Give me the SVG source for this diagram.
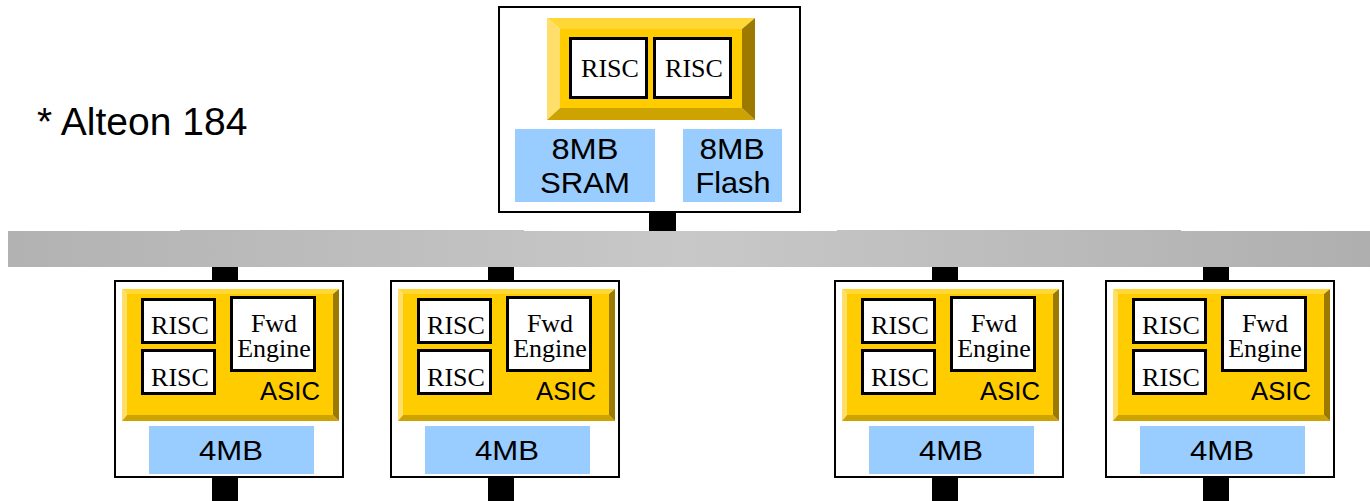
<svg xmlns="http://www.w3.org/2000/svg" width="1370" height="501" viewBox="0 0 1370 501">
<defs>
<linearGradient id="busg" gradientUnits="userSpaceOnUse" x1="8" y1="0" x2="1370" y2="0">
<stop offset="0" stop-color="#B2B2B2"/>
<stop offset="0.5" stop-color="#C8C8C8"/>
<stop offset="1" stop-color="#AFAFAF"/>
</linearGradient>
</defs>
<style>
.box{fill:#FFFFFF;stroke:#000000;stroke-width:2}
.face{fill:#FFCC00}
.bt{fill:#FFD836}
.bl{fill:#FFDE6A}
.bb{fill:#CCA300}
.br{fill:#9C7A00}
.chip{fill:#FFFFFF;stroke:#000000;stroke-width:3}
.mem{fill:#99CCFF}
.stub{fill:#000000}
.ser{font-family:"Liberation Serif","Times New Roman",serif;font-size:26px;fill:#000000;text-anchor:middle}
.san{font-family:"Liberation Sans",Arial,sans-serif;fill:#000000}
.c{text-anchor:middle}
</style>

<g id="connectors">
<rect x="8" y="231" width="1362" height="36" fill="url(#busg)"/>
<rect x="180" y="230" width="344" height="2" fill="url(#busg)"/>
<rect x="837" y="230" width="344" height="2" fill="url(#busg)"/>
<rect class="stub" x="649" y="212" width="27" height="19"/>
<rect class="stub" x="212" y="267" width="26" height="14"/>
<rect class="stub" x="488" y="267" width="26" height="14"/>
<rect class="stub" x="932" y="267" width="26" height="14"/>
<rect class="stub" x="1203" y="267" width="26" height="14"/>
<rect class="stub" x="212" y="477" width="26" height="24"/>
<rect class="stub" x="488" y="477" width="26" height="24"/>
<rect class="stub" x="932" y="477" width="26" height="24"/>
<rect class="stub" x="1203" y="477" width="26" height="24"/>
</g>

<text id="title" class="san" x="37" y="135" font-size="39">* Alteon 184</text>

<g id="top-node">
<rect class="box" x="499" y="7" width="301" height="205"/>
<polygon class="bt" points="547,18 755,18 742,29 560,29"/>
<polygon class="bl" points="547,18 560,29 560,108 547,120"/>
<polygon class="bb" points="547,120 560,108 742,108 755,120"/>
<polygon class="br" points="755,18 755,120 742,108 742,29"/>
<rect class="face" x="560" y="29" width="182" height="79"/>
<rect class="chip" x="570.5" y="38.5" width="76" height="59"/>
<rect class="chip" x="654.5" y="38.5" width="76" height="59"/>
<text class="ser" x="610" y="77">RISC</text>
<text class="ser" x="694" y="77">RISC</text>
<rect class="mem" x="515" y="129" width="140" height="73"/>
<rect class="mem" x="683" y="129" width="99" height="73"/>
<text class="san c" x="585" y="159" font-size="30" textLength="67" lengthAdjust="spacingAndGlyphs">8MB</text>
<text class="san c" x="585" y="193" font-size="30" textLength="90" lengthAdjust="spacingAndGlyphs">SRAM</text>
<text class="san c" x="732" y="159" font-size="30" textLength="65" lengthAdjust="spacingAndGlyphs">8MB</text>
<text class="san c" x="733" y="193" font-size="30" textLength="75" lengthAdjust="spacingAndGlyphs">Flash</text>
</g>

<g id="node-1">
<rect class="box" x="115" y="281" width="228" height="196"/>
<polygon class="bt" points="122,289 339,289 333,294 127,294"/>
<polygon class="bl" points="122,289 127,294 127,415 122,421"/>
<polygon class="bb" points="122,421 127,415 333,415 339,421"/>
<polygon class="br" points="339,289 339,421 333,415 333,294"/>
<rect class="face" x="127" y="294" width="206" height="121"/>
<rect class="chip" x="142.5" y="299.5" width="72" height="43"/>
<rect class="chip" x="142.5" y="350.5" width="72" height="43"/>
<rect class="chip" x="231.5" y="297.5" width="83" height="73"/>
<text class="ser" x="180" y="334">RISC</text>
<text class="ser" x="180" y="386">RISC</text>
<text class="ser" x="274" y="332">Fwd</text>
<text class="ser" x="274" y="357">Engine</text>
<text class="san" x="320" y="400" font-size="25" text-anchor="end" textLength="60" lengthAdjust="spacingAndGlyphs">ASIC</text>
<rect class="mem" x="149" y="426" width="165" height="48"/>
<text class="san c" x="231" y="460" font-size="27" textLength="64" lengthAdjust="spacingAndGlyphs">4MB</text>
</g>

<g id="node-2" transform="translate(276,0)">
<rect class="box" x="115" y="281" width="228" height="196"/>
<polygon class="bt" points="122,289 339,289 333,294 127,294"/>
<polygon class="bl" points="122,289 127,294 127,415 122,421"/>
<polygon class="bb" points="122,421 127,415 333,415 339,421"/>
<polygon class="br" points="339,289 339,421 333,415 333,294"/>
<rect class="face" x="127" y="294" width="206" height="121"/>
<rect class="chip" x="142.5" y="299.5" width="72" height="43"/>
<rect class="chip" x="142.5" y="350.5" width="72" height="43"/>
<rect class="chip" x="231.5" y="297.5" width="83" height="73"/>
<text class="ser" x="180" y="334">RISC</text>
<text class="ser" x="180" y="386">RISC</text>
<text class="ser" x="274" y="332">Fwd</text>
<text class="ser" x="274" y="357">Engine</text>
<text class="san" x="320" y="400" font-size="25" text-anchor="end" textLength="60" lengthAdjust="spacingAndGlyphs">ASIC</text>
<rect class="mem" x="149" y="426" width="165" height="48"/>
<text class="san c" x="231" y="460" font-size="27" textLength="64" lengthAdjust="spacingAndGlyphs">4MB</text>
</g>

<g id="node-3" transform="translate(720,0)">
<rect class="box" x="115" y="281" width="228" height="196"/>
<polygon class="bt" points="122,289 339,289 333,294 127,294"/>
<polygon class="bl" points="122,289 127,294 127,415 122,421"/>
<polygon class="bb" points="122,421 127,415 333,415 339,421"/>
<polygon class="br" points="339,289 339,421 333,415 333,294"/>
<rect class="face" x="127" y="294" width="206" height="121"/>
<rect class="chip" x="142.5" y="299.5" width="72" height="43"/>
<rect class="chip" x="142.5" y="350.5" width="72" height="43"/>
<rect class="chip" x="231.5" y="297.5" width="83" height="73"/>
<text class="ser" x="180" y="334">RISC</text>
<text class="ser" x="180" y="386">RISC</text>
<text class="ser" x="274" y="332">Fwd</text>
<text class="ser" x="274" y="357">Engine</text>
<text class="san" x="320" y="400" font-size="25" text-anchor="end" textLength="60" lengthAdjust="spacingAndGlyphs">ASIC</text>
<rect class="mem" x="149" y="426" width="165" height="48"/>
<text class="san c" x="231" y="460" font-size="27" textLength="64" lengthAdjust="spacingAndGlyphs">4MB</text>
</g>

<g id="node-4" transform="translate(991,0)">
<rect class="box" x="115" y="281" width="228" height="196"/>
<polygon class="bt" points="122,289 339,289 333,294 127,294"/>
<polygon class="bl" points="122,289 127,294 127,415 122,421"/>
<polygon class="bb" points="122,421 127,415 333,415 339,421"/>
<polygon class="br" points="339,289 339,421 333,415 333,294"/>
<rect class="face" x="127" y="294" width="206" height="121"/>
<rect class="chip" x="142.5" y="299.5" width="72" height="43"/>
<rect class="chip" x="142.5" y="350.5" width="72" height="43"/>
<rect class="chip" x="231.5" y="297.5" width="83" height="73"/>
<text class="ser" x="180" y="334">RISC</text>
<text class="ser" x="180" y="386">RISC</text>
<text class="ser" x="274" y="332">Fwd</text>
<text class="ser" x="274" y="357">Engine</text>
<text class="san" x="320" y="400" font-size="25" text-anchor="end" textLength="60" lengthAdjust="spacingAndGlyphs">ASIC</text>
<rect class="mem" x="149" y="426" width="165" height="48"/>
<text class="san c" x="231" y="460" font-size="27" textLength="64" lengthAdjust="spacingAndGlyphs">4MB</text>
</g>
</svg>
